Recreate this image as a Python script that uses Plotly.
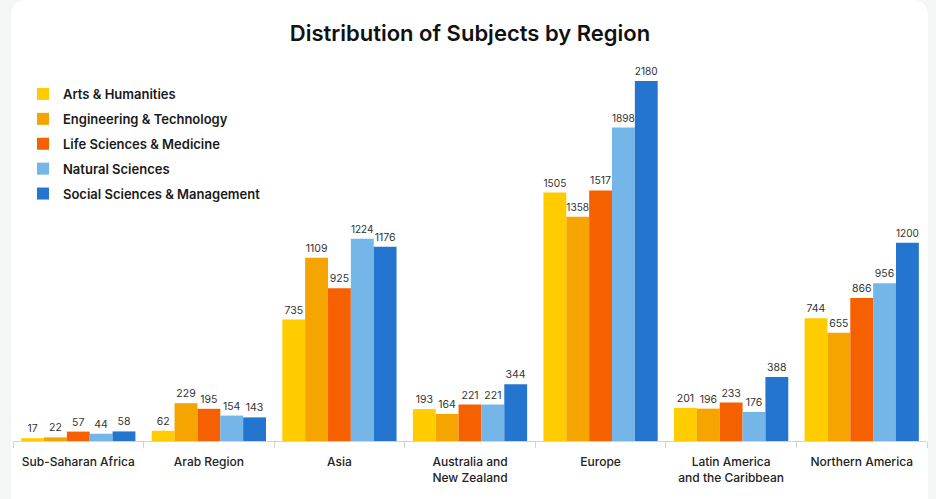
import plotly.graph_objects as go

# Chart data
regions = ["Sub-Saharan Africa", "Arab Region", "Asia", "Australia and<br>New Zealand",
           "Europe", "Latin America<br>and the Caribbean", "Northern America"]
arts = [17, 62, 735, 193, 1505, 201, 744]
engineering = [22, 229, 1109, 164, 1358, 196, 655]
life_sciences = [57, 195, 925, 221, 1517, 233, 866]
natural_sciences = [44, 154, 1224, 221, 1898, 176, 956]
social_sciences = [58, 143, 1176, 344, 2180, 388, 1200]

series = [
    ("Arts & Humanities", arts, "#FFCC00"),
    ("Engineering & Technology", engineering, "#F6A500"),
    ("Life Sciences & Medicine", life_sciences, "#F56000"),
    ("Natural Sciences", natural_sciences, "#74B6E8"),
    ("Social Sciences & Management", social_sciences, "#2475D0"),
]

W, H = 936, 499
L, R, T, B = 13, 9, 70, 58
pw, ph = W - L - R, H - T - B


def px(x, y):
    # pixel -> paper coordinates
    return (x - L) / pw, (H - B - y) / ph


def card_path(x0, y0, x1, y1, r):
    def p(x, y):
        a, b = px(x, y)
        return f"{a:.5f},{b:.5f}"
    pts = ["M" + p(x0 + r, y0), "L" + p(x1 - r, y0),
           "Q" + p(x1, y0) + " " + p(x1, y0 + r),
           "L" + p(x1, y1), "L" + p(x0, y1), "L" + p(x0, y0 + r),
           "Q" + p(x0, y0) + " " + p(x0 + r, y0)]
    return " ".join(pts) + " Z"


fig = go.Figure()
for name, vals, color in series:
    fig.add_trace(go.Bar(
        name=name, x=regions, y=vals,
        marker=dict(color=color, line=dict(width=0)),
        text=vals, textposition="outside", cliponaxis=False,
        textfont=dict(family="Inter", size=10.5, color="#333333"),
        legendgroup=name,
    ))

ymax = 2180 * ph / 360

fig.update_layout(
    width=W, height=H,
    margin=dict(l=L, r=R, t=T, b=B),
    paper_bgcolor="#F4F5F5",
    plot_bgcolor="rgba(0,0,0,0)",
    barmode="group",
    bargap=0.125,
    bargroupgap=0,
    showlegend=True,
    title=dict(text="Distribution of Subjects by Region", x=0.5, xref="paper",
               y=1 - 33 / H, yanchor="middle",
               font=dict(family="Inter", size=22, color="#111111", weight=600)),
    legend=dict(x=px(23, 0)[0], y=px(0, 79)[1], xanchor="left", yanchor="top",
                bgcolor="rgba(0,0,0,0)", traceorder="grouped", tracegroupgap=5,
                font=dict(family="Inter", size=13, color="#1a1a1a", weight=600),
                itemwidth=30),
    xaxis=dict(showline=True, linecolor="#D3D3D3", linewidth=1,
               ticks="outside", tickson="boundaries", ticklen=6, tickcolor="#D3D3D3",
               ticklabelstandoff=10,
               tickfont=dict(family="Inter", size=12, color="#222222", weight=500),
               showgrid=False, fixedrange=True),
    yaxis=dict(range=[0, ymax], visible=False, showgrid=False, fixedrange=True),
    shapes=[dict(type="path", xref="paper", yref="paper", layer="below",
                 path=card_path(11, 0, 928, 530, 16),
                 fillcolor="#FFFFFF", line=dict(width=0))],
)

fig.write_html("out.html", config={"displayModeBar": False},
               post_script="document.body.style.margin='0';"
               "document.body.style.background='#F4F5F5';")
